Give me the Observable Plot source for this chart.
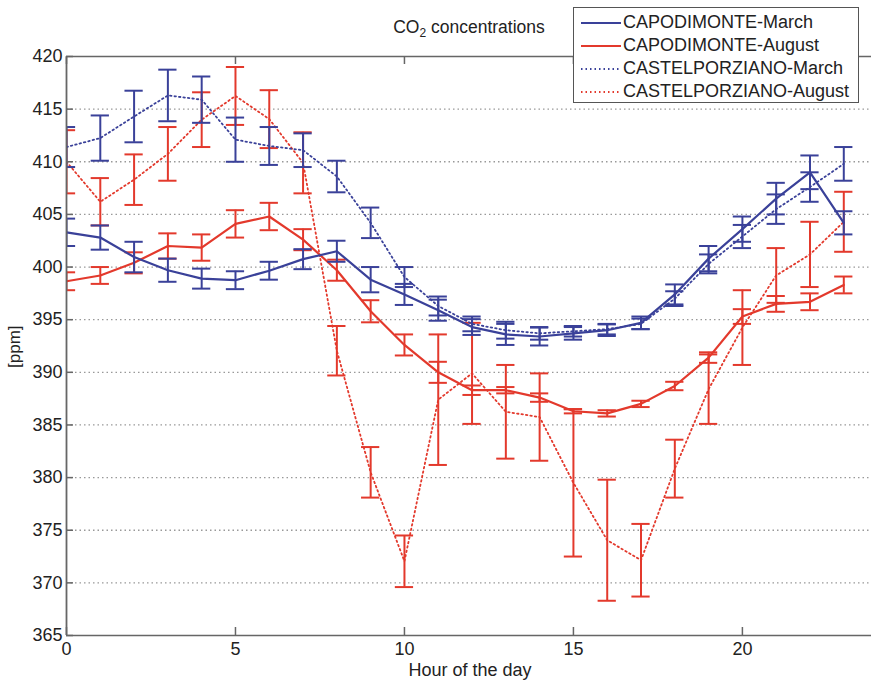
<!DOCTYPE html>
<html><head><meta charset="utf-8">
<script src="https://cdn.jsdelivr.net/npm/d3@7"></script>
<script src="https://cdn.jsdelivr.net/npm/@observablehq/plot@0.6"></script>
<style>
body{margin:0;background:#fff;font-family:"Liberation Sans",Arial,Helvetica,sans-serif;color:#222;}
#wrap{position:relative;width:871px;height:680px;overflow:hidden;background:#fff;}
#chart{position:absolute;left:0;top:0;}
#title{position:absolute;left:0;width:938px;top:17px;text-align:center;font-size:17.5px;line-height:20px;color:#222;}
#title sub{font-size:12px;vertical-align:-4px;line-height:0;}
#xlab{position:absolute;left:0;width:940px;top:660px;text-align:center;font-size:18px;line-height:20px;color:#222;}
#ylab{position:absolute;left:-6px;top:337px;width:42px;text-align:center;font-size:17px;line-height:20px;transform:rotate(-90deg);transform-origin:21px 10px;color:#222;}
#legend{position:absolute;left:573px;top:7px;width:284px;height:94px;border:1.5px solid #555;background:#fff;}
.lrow{position:absolute;left:0;height:23px;width:284px;font-size:18px;line-height:23px;white-space:nowrap;}
.lrow svg{position:absolute;left:7px;top:0;}
.lrow span{position:absolute;left:49px;top:0;}
</style></head><body>
<div id="wrap">
  <div id="chart"></div>
  <div id="title">CO<sub>2</sub> concentrations</div>
  <div id="ylab">[ppm]</div>
  <div id="xlab">Hour of the day</div>
  <div id="legend"></div>
</div>
<script>
// ---- data ----
const hours = [0,1,2,3,4,5,6,7,8,9,10,11,12,13,14,15,16,17,18,19,20,21,22,23];

const seriesNames = ["CAPODIMONTE-March","CAPODIMONTE-August","CASTELPORZIANO-March","CASTELPORZIANO-August"];

const capodimonteMarchMean = [403.3,402.8,400.95,399.7,398.9,398.75,399.65,400.75,401.5,398.8,397.4,395.9,394.3,393.6,393.4,393.7,394.0,394.7,397.4,400.8,403.6,406.5,409.0,404.2];
const capodimonteMarchErr  = [1.3,1.15,1.45,1.1,0.95,0.85,0.85,0.95,1.0,1.2,1.0,1.0,0.75,1.0,0.85,0.6,0.55,0.6,0.95,1.2,1.2,1.5,1.6,1.1];

const capodimonteAugustMean = [398.65,399.2,400.4,402.0,401.85,404.1,404.8,402.6,399.7,395.8,392.6,390.0,388.3,388.3,387.6,386.3,386.1,387.0,388.7,391.4,395.3,396.5,396.7,398.3];
const capodimonteAugustErr  = [0.85,0.8,1.0,1.2,1.25,1.3,1.3,1.0,1.0,1.05,1.0,1.0,0.45,0.3,0.4,0.2,0.3,0.3,0.4,0.5,0.7,0.75,0.8,0.8];

const castelporzianoMarchMean = [411.4,412.25,414.3,416.3,415.9,412.1,411.5,411.1,408.6,404.2,399.05,396.3,394.6,394.0,393.7,393.9,394.1,394.6,397.0,400.3,402.9,405.5,407.6,409.8];
const castelporzianoMarchErr  = [1.9,2.15,2.45,2.45,2.2,2.1,1.8,1.6,1.5,1.45,0.95,0.9,0.7,0.8,0.6,0.5,0.5,0.5,0.7,0.9,1.1,1.4,1.4,1.6];

const castelporzianoAugustMean = [410.0,406.2,408.3,410.75,414.0,416.25,414.05,409.9,392.05,380.5,372.05,387.4,389.9,386.25,385.75,379.5,374.05,372.15,380.85,388.4,394.25,399.2,401.2,404.3];
const castelporzianoAugustErr  = [3.0,2.25,2.4,2.55,2.6,2.75,2.75,2.9,2.35,2.4,2.45,6.2,4.8,4.45,4.15,7.0,5.75,3.45,2.75,3.3,3.55,2.6,3.1,2.85];

const yTicks = [365,370,375,380,385,390,395,400,405,410,415,420];
const xTicks = [0,5,10,15,20];
const gridTicks = [370,375,380,385,390,395,400,405,410,415];

// ---- styles ----
const BLUE = "#3a4199", RED = "#e3392c";
const seriesStyle = [
  {color: BLUE, dash: null},
  {color: RED, dash: null},
  {color: BLUE, dash: "1.5,3"},
  {color: RED, dash: "1.5,3"}
];
const CAP = 0.27; // half cap width in hours

const means = [capodimonteMarchMean, capodimonteAugustMean, castelporzianoMarchMean, castelporzianoAugustMean];
const errs = [capodimonteMarchErr, capodimonteAugustErr, castelporzianoMarchErr, castelporzianoAugustErr];

const seriesRows = means.map((m, s) => hours.map((h, i) => ({series: seriesNames[s], h, mean: m[i], err: errs[s][i]})));

const dataMarks = [];
// draw CASTELPORZIANO first then CAPODIMONTE on top
[3,2,1,0].forEach(s => {
  const rows = seriesRows[s];
  const st = seriesStyle[s];
  dataMarks.push(
    Plot.ruleX(rows, {x: "h", y1: d => d.mean - d.err, y2: d => d.mean + d.err, stroke: st.color, strokeWidth: 2, clip: true}),
    Plot.ruleY(rows, {y: d => d.mean + d.err, x1: d => d.h - CAP, x2: d => d.h + CAP, stroke: st.color, strokeWidth: 2, clip: true}),
    Plot.ruleY(rows, {y: d => d.mean - d.err, x1: d => d.h - CAP, x2: d => d.h + CAP, stroke: st.color, strokeWidth: 2, clip: true}),
    Plot.line(rows, {x: "h", y: "mean", stroke: st.color, strokeWidth: st.dash ? 1.8 : 2.2, strokeDasharray: st.dash, clip: true})
  );
});

const chart = Plot.plot({
  width: 871, height: 680,
  marginLeft: 66, marginRight: 0, marginTop: 56, marginBottom: 45,
  style: {fontFamily: "'Liberation Sans', Arial, Helvetica, sans-serif", fontSize: "18px", color: "#222", background: "transparent"},
  x: {domain: [0, 23.82]},
  y: {domain: [365, 420]},
  marks: [
    Plot.ruleY(gridTicks, {stroke: "#999", strokeWidth: 1.3, strokeDasharray: "1.5,3"}),
    ...dataMarks,
    Plot.ruleX([0], {stroke: "#666", strokeWidth: 1.8}),
    Plot.ruleY([365, 420], {stroke: "#666", strokeWidth: 1.6}),
    Plot.axisY(yTicks, {anchor: "left", tickSize: 0, tickPadding: 4, label: null, fill: "#222"}),
    Plot.axisY(yTicks, {anchor: "left", tickSize: 7, dx: 7, text: null, label: null, stroke: "#666", strokeWidth: 1.5}),
    Plot.axisX(xTicks, {anchor: "bottom", tickSize: 0, tickPadding: 7, label: null, fill: "#222"}),
    Plot.axisX(xTicks, {anchor: "bottom", tickSize: 8, dy: -8, text: null, label: null, stroke: "#666", strokeWidth: 1.5}),
    Plot.axisX(xTicks, {anchor: "top", tickSize: 7, dy: 7, text: null, label: null, stroke: "#666", strokeWidth: 1.5})
  ]
});
document.getElementById("chart").appendChild(chart);

// ---- legend ----
const legend = document.getElementById("legend");
seriesNames.forEach((name, s) => {
  const st = seriesStyle[s];
  const row = document.createElement("div");
  row.className = "lrow";
  row.style.top = (3 + s * 23) + "px";
  row.innerHTML = `<svg width="42" height="23"><line x1="0" x2="40" y1="12" y2="12" stroke="${st.color}" stroke-width="1.8" ${st.dash ? `stroke-dasharray="${st.dash}"` : ""}/></svg><span>${name}</span>`;
  legend.appendChild(row);
});
</script>
</body></html>
